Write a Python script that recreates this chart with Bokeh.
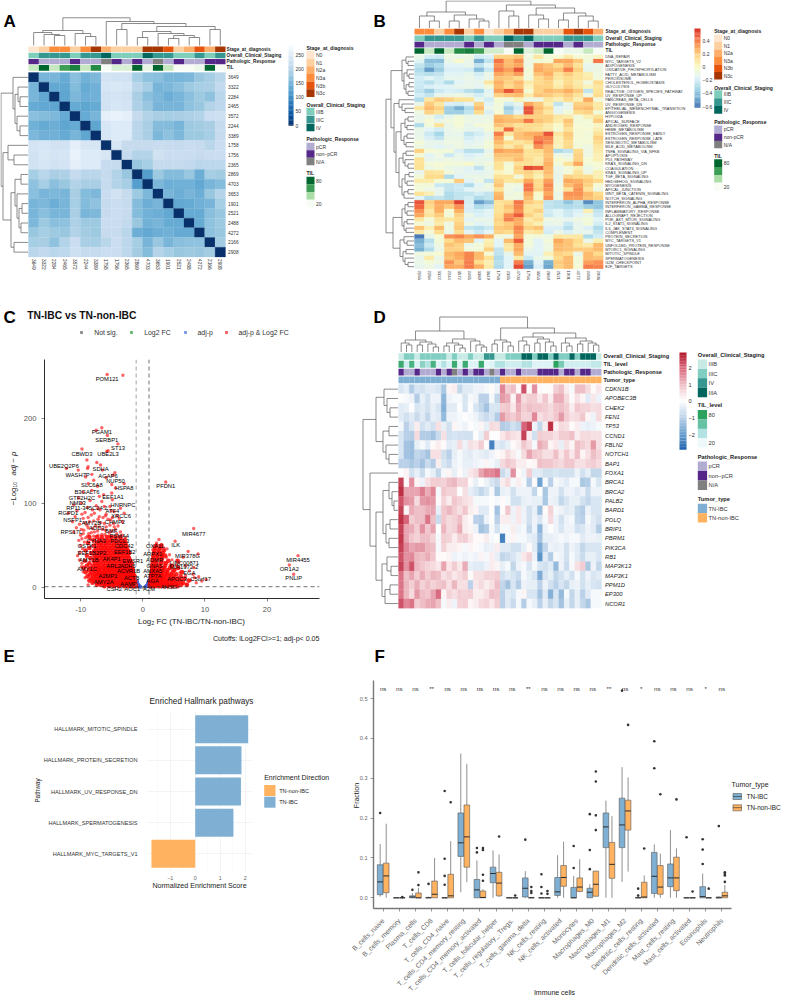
import math
from bokeh.plotting import figure
from bokeh.models import Range1d, FixedTicker, Label, BoxAnnotation, Span, ColumnDataSource
from bokeh.layouts import row, column
from bokeh.core.properties import value
from bokeh.transform import linear_cmap
from bokeh.embed import file_html
from bokeh.resources import INLINE
from bokeh.palettes import Blues256

FONT = "Liberation Sans"
L = None

# ---------- shared colours
stage_colors = {"N0": "#FEE6CE", "N1": "#FDD0A2", "N2a": "#FDAE6B", "N3a": "#FD8D3C", "N3b": "#E6550D", "N3c": "#A63603"}
overall_colors = {"IIIB": "#7FCDBB", "IIIC": "#35978F", "IV": "#01665E"}
path_colors = {"pCR": "#B2ABD2", "non": "#542788", "NA": "#808080"}
d_overall_colors = {"IIIB": "#C7EAE5", "IIIC": "#80CDC1", "IV": "#35978F", "IIIA": "#01665E"}
tumor_colors = {"TN-IBC": "#7FB0D3", "TN-non-IBC": "#FFB361"}
til_stops = ["#F7FCF5", "#C7E9C0", "#74C476", "#238B45", "#00662F"]
d_til_stops = ["#EDF8FB", "#B2E2E2", "#66C2A4", "#2CA25F"]
rdylbu_stops = ["#4575B4", "#74ADD1", "#ABD9E9", "#E0F3F8", "#F8FBCF", "#FEE090", "#FDAE61", "#F46D43", "#D73027"]
rdbu_stops = ["#1F63AE", "#6FA3D0", "#B9D0E8", "#FFFFFF", "#EFC1C8", "#D9697E", "#B2182B"]

# ---------- panel A
a_samples = ["3649", "3322", "2284", "2465", "3572", "2244", "3389", "1758", "1756", "2365", "2869", "4703", "3653", "1901", "2521", "2488", "4272", "2166", "2908"]
a_stage = ["N0", "N1", "N3a", "N3a", "N1", "N3a", "N3c", "N2a", "N1", "N1", "N1", "N3c", "N3c", "N3b", "N1", "N2a", "N3b", "N2a", "N3c"]
a_overall = ["IIIB", "IIIC", "IIIC", "IIIC", "IIIB", "IIIC", "IIIC", "IV", "IIIB", "IIIB", "IIIB", "IV", "IIIC", "IIIC", "IIIB", "IIIB", "IIIC", "IIIB", "IIIC"]
a_path = ["non", "pCR", "pCR", "pCR", "non", "pCR", "pCR", "NA", "non", "pCR", "non", "pCR", "NA", "pCR", "non", "pCR", "pCR", "non", "non"]
a_til = [35, 80, 35, 60, 70, 35, 65, 20, 30, 30, 80, 25, 80, 35, 20, 20, 23, 80, 20]
a_matrix = [
    [0, 150, 150, 137, 162, 145, 154, 232, 227, 227, 183, 166, 162, 150, 150, 154, 172, 183, 200],
    [150, 0, 134, 134, 158, 137, 145, 236, 240, 236, 200, 183, 150, 154, 162, 176, 183, 187, 208],
    [150, 134, 0, 130, 154, 141, 145, 227, 232, 227, 187, 162, 154, 141, 150, 162, 176, 166, 200],
    [137, 134, 130, 0, 137, 130, 137, 227, 236, 232, 190, 172, 150, 150, 150, 166, 172, 194, 203],
    [162, 158, 154, 137, 0, 137, 150, 255, 262, 255, 212, 194, 187, 183, 187, 190, 194, 219, 222],
    [145, 137, 141, 130, 137, 0, 130, 236, 245, 245, 200, 187, 158, 158, 150, 176, 180, 187, 212],
    [154, 145, 145, 137, 150, 130, 0, 236, 245, 245, 200, 187, 154, 166, 154, 176, 176, 183, 212],
    [232, 236, 227, 227, 255, 236, 236, 0, 236, 212, 212, 212, 216, 212, 212, 216, 212, 200, 219],
    [227, 240, 232, 236, 262, 245, 245, 236, 0, 212, 194, 194, 227, 219, 219, 216, 212, 219, 219],
    [227, 236, 227, 232, 255, 245, 245, 212, 212, 0, 172, 183, 212, 212, 212, 208, 200, 203, 203],
    [183, 200, 187, 190, 212, 200, 200, 212, 194, 172, 0, 122, 176, 158, 158, 172, 141, 183, 180],
    [166, 183, 162, 172, 194, 187, 187, 212, 194, 183, 122, 0, 154, 141, 145, 145, 134, 150, 158],
    [162, 150, 154, 150, 187, 158, 154, 216, 227, 212, 176, 154, 0, 150, 141, 150, 141, 172, 197],
    [150, 154, 141, 150, 183, 158, 166, 212, 219, 212, 158, 141, 150, 0, 134, 137, 145, 150, 183],
    [150, 162, 150, 150, 187, 150, 154, 212, 219, 212, 158, 145, 141, 134, 0, 137, 137, 162, 172],
    [154, 176, 162, 166, 190, 176, 176, 216, 216, 208, 172, 145, 150, 137, 137, 0, 137, 166, 176],
    [172, 183, 176, 172, 194, 180, 176, 212, 212, 200, 141, 134, 141, 145, 137, 137, 0, 166, 172],
    [183, 187, 166, 194, 219, 187, 183, 200, 219, 203, 183, 150, 172, 150, 162, 166, 166, 0, 180],
    [200, 208, 200, 203, 222, 212, 212, 219, 219, 203, 180, 158, 197, 183, 172, 176, 172, 180, 0],
]
a_col_tree = (27.7,
              (15, (13, L, (11, L, (10, L, L))), (12, L, (9, L, L))),
              (24, L, (22, (16, L, L), (19, (14, (8, L, L), (12, L, (10, (7, L, L), (8, L, L)))), (16, L, L)))))
a_row_tree = (27,
              (15, L, (13, (10, L, (8, L, L)), (11, L, (8, L, L)))),
              (25, (20, L, (14, L, L)),
               (17, (13, (7, L, L), (11, L, (9, (6, L, L), (7, L, L)))), (14, L, L))))

# ---------- panel B
b_samples = ["2166", "2284", "3322", "2244", "3572", "2465", "3389", "3649", "1758", "2365", "4703", "1756", "3653", "2869", "2521", "1901", "4272", "2488", "2908"]
b_stage = ["N3a", "N3a", "N1", "N3a", "N3c", "N1", "N3a", "N0", "N1", "N2a", "N3c", "N3c", "N1", "N1", "N1", "N3b", "N3c", "N3b", "N2a"]
b_overall = ["IIIB", "IIIC", "IIIC", "IIIC", "IIIC", "IIIB", "IIIC", "IIIB", "IIIB", "IV", "IIIC", "IV", "IIIB", "IIIB", "IIIB", "IIIC", "IIIC", "IIIC", "IIIB"]
b_path = ["non", "pCR", "pCR", "pCR", "pCR", "non", "pCR", "non", "pCR", "NA", "NA", "pCR", "non", "non", "non", "pCR", "non", "pCR", "pCR"]
b_til = [80, 35, 80, 35, 65, 70, 60, 32, 32, 20, 80, 28, 35, 80, 20, 24, 24, 35, 20]
b_pathways = ["DNA_REPAIR", "MYC_TARGETS_V2", "ADIPOGENESIS", "OXIDATIVE_PHOSPHORYLATION", "FATTY_ACID_METABOLISM", "PEROXISOME", "CHOLESTEROL_HOMEOSTASIS", "GLYCOLYSIS", "REACTIVE_OXYGEN_SPECIES_PATHWAY", "UV_RESPONSE_UP", "PANCREAS_BETA_CELLS", "UV_RESPONSE_DN", "EPITHELIAL_MESENCHYMAL_TRANSITION", "ANGIOGENESIS", "HYPOXIA", "APICAL_SURFACE", "ANDROGEN_RESPONSE", "HEME_METABOLISM", "ESTROGEN_RESPONSE_EARLY", "ESTROGEN_RESPONSE_LATE", "XENOBIOTIC_METABOLISM", "BILE_ACID_METABOLISM", "TNFA_SIGNALING_VIA_NFKB", "APOPTOSIS", "P53_PATHWAY", "KRAS_SIGNALING_DN", "COAGULATION", "KRAS_SIGNALING_UP", "TGF_BETA_SIGNALING", "HEDGEHOG_SIGNALING", "MYOGENESIS", "APICAL_JUNCTION", "WNT_BETA_CATENIN_SIGNALING", "NOTCH_SIGNALING", "INTERFERON_ALPHA_RESPONSE", "INTERFERON_GAMMA_RESPONSE", "INFLAMMATORY_RESPONSE", "ALLOGRAFT_REJECTION", "PI3K_AKT_MTOR_SIGNALING", "IL2_STAT5_SIGNALING", "IL6_JAK_STAT3_SIGNALING", "COMPLEMENT", "PROTEIN_SECRETION", "MYC_TARGETS_V1", "UNFOLDED_PROTEIN_RESPONSE", "MTORC1_SIGNALING", "MITOTIC_SPINDLE", "SPERMATOGENESIS", "G2M_CHECKPOINT", "E2F_TARGETS"]
b_matrix_pct = [
    [-10, -20, -22, -8, -10, -8, -20, -18, 18, 18, 22, -6, 10, -5, -3, 8, -3, -5, 2],
    [-15, -40, -40, -10, 0, -10, -45, -25, 42, 25, 35, -8, -5, -3, 30, 30, 20, -5, 42],
    [-25, -35, -30, -15, -15, -12, -25, -15, 35, 25, 30, -8, 28, 22, 15, 25, 12, -12, -10],
    [-30, -50, -35, -18, -18, -20, -40, -22, 40, 32, 50, -5, 30, 25, 22, 40, 18, -12, -8],
    [-25, -28, -25, -15, -15, -12, -20, -10, 30, 25, 33, -5, 22, 28, 12, 20, 12, 5, -8],
    [-20, -15, -20, -12, -12, -10, -15, -10, 22, 20, 15, -6, 15, 22, 10, 15, 12, 8, -5],
    [-22, -28, -20, -30, -15, -12, -12, 10, 28, 18, 25, 8, 15, 18, 5, 15, 8, -6, 15],
    [-22, -18, -16, -15, -12, -10, -14, -5, 25, 15, 22, 3, 18, 18, 8, 18, 10, 3, 10],
    [-25, -35, -22, -18, -20, -28, -32, -15, 32, 50, 35, -3, 18, 25, 22, 28, 20, -25, 12],
    [-20, -25, -12, -10, -8, -12, -20, -12, 18, 22, 25, 8, 22, 20, 15, 20, 12, -8, 15],
    [-30, 10, 20, 18, 12, 12, -12, -20, -3, -5, 5, -8, -8, 10, 5, 15, 5, 30, -5],
    [-10, 20, 10, -18, -20, -15, 18, -15, -5, -20, -12, 30, 20, 5, -25, -10, 18, 18, 8],
    [10, 25, 18, -35, -45, -30, 25, -10, -6, -35, -20, 50, 25, 15, -15, -10, 22, 25, 10],
    [-8, 18, 12, -35, -35, -25, 15, -18, -3, -30, -15, 50, 20, 10, -12, -5, 15, 18, -5],
    [-12, -8, -20, -12, -5, -10, -10, -10, 25, 22, 15, 18, 18, 18, 10, 8, -5, 5, 12],
    [-10, -3, -10, -6, -4, -8, -10, -8, 28, 25, 25, 42, 22, 18, 8, 22, -5, -5, 20],
    [-30, -5, 12, -10, -3, -12, -5, -5, 22, 18, 12, 15, 15, 8, 0, 18, -3, -5, 2],
    [-10, -15, -20, -10, -8, -12, -14, -5, 12, 45, 18, 15, 12, 8, -3, 12, -3, -3, 5],
    [-12, -22, -32, -12, -12, -25, -20, -12, 40, 10, 22, 28, 30, 50, 10, 20, -3, -5, 12],
    [-10, -18, -25, -10, -10, -20, -15, -10, 30, -3, 22, 25, 38, 38, 5, 18, -3, -5, 18],
    [-5, -12, -12, -8, -8, -15, -12, -5, 25, 15, 10, 15, 45, 35, 5, 15, -5, -3, 15],
    [-8, -12, -15, -12, -8, -12, -10, -5, 18, 8, 18, 5, 35, 25, 3, 15, -5, -8, 10],
    [18, -3, -5, -5, -18, -28, -28, -12, 32, 28, 30, 12, 15, 25, -30, -25, 15, -8, 8],
    [-5, -15, -8, -22, -12, -18, -15, -8, 22, 22, 22, 12, 12, 22, -8, -12, 18, -8, 5],
    [12, -12, -10, -8, -10, -14, -10, -12, 18, 18, 25, 15, 8, 25, 0, -5, 18, -3, 5],
    [12, -5, -3, -5, -5, 0, -10, -6, 12, -5, 12, 12, 10, 28, -5, 12, 30, -5, -3],
    [12, -8, -5, -10, -12, -15, -25, -10, 12, -3, 18, 52, 48, 25, -12, -5, 5, -10, -5],
    [-12, 12, 10, -5, -12, -14, -14, -12, 3, -3, 15, 18, 10, 25, -10, -5, 12, -8, 5],
    [-5, 15, 15, -30, -15, -10, -10, -10, 12, 12, -5, 15, 5, 20, -12, 18, 15, 15, 5],
    [8, 8, -3, -3, 20, -15, -8, -25, 18, 10, 12, 30, 15, 32, -10, 30, 28, 20, 15],
    [-5, -5, -22, -25, -22, -30, -15, -8, 22, -6, -8, 42, 15, 38, -8, 25, 32, 18, -3],
    [-5, -8, -12, -25, -22, -15, -12, -10, 12, -6, -12, 42, 18, 35, -6, 12, 35, 12, -8],
    [12, 5, -12, -30, -25, -25, -20, -25, 25, -8, -5, 30, 0, 30, -10, 35, 35, 25, 15],
    [-15, -28, -25, -30, -25, -20, -30, -25, 28, -6, -8, 25, -3, 35, -8, 32, 32, 22, 18],
    [50, 18, 30, 30, 55, -20, -50, -40, 12, 15, 42, 20, 15, -25, -28, -38, -28, -55, -38],
    [45, 15, 28, 20, 35, -18, -30, -25, 12, 22, 38, 12, 10, -25, -28, -30, -28, -35, -38],
    [35, 8, 28, -3, 28, -18, -20, -15, 12, 18, 35, 12, 18, -20, -15, -22, -18, 5, -25],
    [30, 12, 20, -5, 18, -10, -18, -15, 15, 35, 48, 18, 10, -22, -15, -22, -15, -10, -22],
    [10, -5, 12, 10, 15, -15, -10, -12, 18, 40, 30, 8, 15, -8, -10, -12, -8, -5, -15],
    [-3, -8, 8, -8, 18, -8, -15, -12, 15, 20, 28, 12, 5, -12, -10, -22, -12, -5, -20],
    [22, 5, 25, -8, 20, -25, -28, -22, 20, 22, 38, 18, 22, -18, -18, -28, -12, -18, -30],
    [8, -5, 15, -10, 15, -15, -22, -15, 18, 15, 35, 8, 12, -20, -10, -18, -12, -12, -25],
    [-60, -12, -3, 35, 38, 30, 35, 28, -5, -8, 30, -5, -5, -8, 10, 8, 10, -30, -20],
    [-45, -28, -5, 15, 25, 22, -15, 5, -15, 25, 48, -5, -15, -5, 30, 22, 15, -10, 5],
    [-40, -22, -8, 22, 18, -10, -5, 8, -15, 10, 28, -5, -15, -8, 25, 22, 12, 8, 25],
    [-45, -30, -10, 18, 18, -5, -5, 18, -25, 10, 30, -10, -15, -8, 25, 22, 20, 20, 25],
    [-8, -5, -3, 25, 30, 38, 25, -3, -25, -12, 25, -15, -15, 5, 18, 15, -10, 25, 15],
    [-12, 8, -10, 22, 28, 38, 25, 12, -30, -15, 8, -22, -10, -5, 15, 25, -5, 25, 22],
    [-10, -5, -8, 35, 22, 40, 15, 5, -28, -15, 40, -45, -15, -45, 20, 25, -5, 32, 35],
    [-12, -8, -15, 30, 28, 40, 28, 8, -30, -15, 52, -50, -18, -48, 18, 25, -3, 40, 38],
]
b_col_tree = (27,
              (16, (12, L, (7, L, L)), (13, (7, L, L), (9, L, (7, L, L)))),
              (23, (17, L, (12, L, L)), (20, (13, L, (9, L, L)), (15, (8, L, L), (12, L, (7, L, L))))))
b_g1 = (12, (8, L, (6, L, L)), (10, (7, L, (5, L, L)), (8, (5, L, L), (6, L, L))))
b_g2a = (15, L, (12, L, (9, L, L)))
b_g2b = (13, (9, (6, L, L), (7, L, L)), (10, (7, L, L), (8, L, L)))
b_g2c = (15, (11, (8, L, L), (9, L, (6, L, L))), (12, (9, (5, L, L), (7, L, L)), (10, (6, L, L), L)))
b_g3 = (12, (9, (6, L, L), (7, L, L)), (10, (7, L, L), (8, L, L)))
b_g4 = (14, (10, L, (7, L, L)), (11, (8, L, L), (9, L, (6, L, L))))
b_row_tree = (28, (23, b_g1, (20, b_g2a, (18, b_g2b, b_g2c))), (21, b_g3, b_g4))

# ---------- panel C
red_bands = [
    (1.8, [-6.2, -5.4, -4.6, -3.8, -3.0, -2.4, -1.9, -1.4, -1.1, 1.2, 1.6, 2.1, 2.7, 3.3, 4.0, 4.8, 5.6]),
    (3.5, [-7.4, -6.8, -6.1, -5.5, -4.9, -4.3, -3.7, -3.2, -2.7, -2.2, -1.8, -1.4, -1.1, 1.1, 1.5, 1.9, 2.4, 2.9, 3.5, 4.1, 4.7, 5.4, 6.2, 7.1]),
    (6, [-8.1, -7.3, -6.7, -6.0, -5.4, -4.8, -4.2, -3.6, -3.1, -2.6, -2.1, -1.7, -1.3, 1.2, 1.6, 2.1, 2.6, 3.2, 3.8, 4.4, 5.0, 5.7, 6.5]),
    (8.5, [-8.6, -7.9, -7.2, -6.5, -5.9, -5.3, -4.7, -4.1, -3.5, -3.0, -2.5, -2.0, -1.6, -1.2, 1.2, 1.7, 2.2, 2.8, 3.3, 3.9, 4.6, 5.2, 6.0, 7.4]),
    (11, [-8.3, -7.6, -7.0, -6.4, -5.7, -5.1, -4.5, -3.9, -3.4, -2.8, -2.3, -1.9, -1.4, 1.3, 1.8, 2.3, 2.9, 3.5, 4.2, 4.9, 5.6, 6.7]),
    (13.5, [-8.9, -8.0, -7.4, -6.8, -6.2, -5.6, -5.0, -4.4, -3.8, -3.2, -2.7, -2.2, -1.7, -1.3, 1.3, 1.8, 2.4, 3.0, 3.6, 4.3, 5.0, 6.1]),
    (16, [-8.5, -7.7, -7.1, -6.5, -5.9, -5.2, -4.6, -4.0, -3.5, -2.9, -2.4, -1.9, -1.5, 1.4, 1.9, 2.5, 3.1, 3.8, 4.5, 5.4]),
    (18.5, [-9.2, -8.2, -7.5, -6.9, -6.2, -5.6, -5.0, -4.4, -3.8, -3.2, -2.6, -2.1, -1.6, 1.4, 1.9, 2.5, 3.2, 3.9, 4.8, 6.3]),
    (21, [-8.7, -7.9, -7.2, -6.6, -6.0, -5.4, -4.8, -4.2, -3.6, -3.0, -2.5, -2.0, -1.6, 1.5, 2.0, 2.6, 3.3, 4.0, 5.1]),
    (23.5, [-9.5, -8.4, -7.6, -7.0, -6.3, -5.7, -5.1, -4.5, -3.9, -3.3, -2.8, -2.2, -1.7, 1.5, 2.0, 2.7, 3.4, 4.4, 5.7]),
    (26, [-9.0, -8.0, -7.3, -6.7, -6.1, -5.5, -4.9, -4.3, -3.7, -3.1, -2.5, -2.0, 1.5, 2.1, 2.8, 3.6, 4.7]),
    (29, [-8.6, -7.7, -7.1, -6.4, -5.8, -5.2, -4.6, -4.0, -3.4, -2.8, -2.2, -1.8, 1.6, 2.2, 2.9, 3.7]),
    (32, [-9.3, -7.9, -7.3, -6.7, -6.1, -5.5, -4.9, -4.3, -3.7, -3.1, -2.5, -2.0, 1.6, 2.2, 3.0, 4.1, 5.6]),
    (35, [-8.4, -7.6, -7.0, -6.4, -5.8, -5.2, -4.6, -4.0, -3.4, -2.8, -2.2, 1.7, 2.4, 3.1]),
    (38, [-9.0, -7.8, -7.2, -6.6, -6.0, -5.4, -4.8, -4.2, -3.6, -3.0, -2.4, 1.7, 2.3, 3.0, 3.6]),
    (41, [-8.3, -7.5, -6.9, -6.3, -5.7, -5.1, -4.5, -3.9, -3.3, -2.7, -2.2, 1.8, 2.5, 3.2]),
    (44, [-9.2, -7.8, -7.1, -6.5, -5.9, -5.3, -4.7, -4.1, -3.5, -2.9, -2.4, 1.9, 2.6, 3.4]),
    (47, [-8.6, -7.5, -6.8, -6.2, -5.6, -5.0, -4.4, -3.8, -3.2, -2.6, 2.0, 2.8]),
    (50, [-7.9, -7.1, -6.5, -5.9, -5.2, -4.6, -3.9, -3.3, -2.7, 2.2, 3.0]),
    (53, [-8.8, -7.4, -6.7, -6.0, -5.4, -4.7, -4.1, -3.4, -2.8]),
    (56, [-7.9, -7.0, -6.3, -5.6, -5.0, -4.3, -3.6, -2.9]),
    (60, [-8.6, -7.4, -6.6, -5.8, -5.1, -4.4, -3.7]),
]
red_scatter = [(-5.74, 252), (-3.2, 251), (-6.6, 189), (-7.5, 186), (-5.7, 180), (-4, 170), (-5.6, 162), (-5.8, 161), (-9.8, 164), (-9.0, 151), (-7.4, 148), (-6.8, 145), (-8.8, 143), (-8.9, 141), (-12.3, 141), (-6.5, 139), (-10.4, 139), (-4.5, 136), (-8.2, 134), (-4.8, 133), (-9.2, 131), (-5.9, 130), (-7.9, 127), (-3.0, 123), (3.7, 125), (-8.8, 123), (-5.0, 122), (-7.3, 120), (-4.4, 118), (-8.2, 115), (-5, 112), (-9.6, 113), (-6.3, 110), (-7.0, 108), (-10.3, 106), (-4.9, 104), (-8.5, 103), (-6.6, 102), (-9.9, 100), (-11.1, 98), (-7.5, 97), (-5.3, 96), (-8.9, 95), (-3.6, 94), (-6.9, 92), (-10.6, 91), (-4.6, 90), (-9.3, 89), (-7.8, 88), (-5.9, 87), (-12.0, 88), (-8.3, 86), (-4.1, 85), (-10.9, 84), (-6.4, 83), (-9.6, 82), (-7.2, 81), (-5.2, 80), (-11.3, 78), (-8.6, 78), (-6.8, 77), (-4.7, 76), (-10.2, 75), (-9.0, 74), (-7.6, 73), (-5.9, 72), (-10.7, 71), (-8.1, 70), (-6.5, 69), (-4.4, 69), (-9.5, 68), (-7.3, 67), (-11.1, 66), (-5.4, 65), (-8.7, 64), (-6.1, 63), (-10, 62), (-7.9, 61), (-4.9, 60), (-9.2, 59), (-6.9, 58), (-3.4, 58), (-8.4, 57), (-5.7, 56), (8.2, 70), (5.2, 55), (7.3, 43), (8.9, 40), (6.5, 36), (3.9, 46), (2.6, 57), (2.2, 53), (3, 51), (2, 50), (1.8, 48), (3.4, 47), (2.6, 46), (1.6, 45), (3.0, 42), (4.3, 39), (5.8, 30), (6.9, 26), (8.2, 24), (7.5, 20), (9, 13), (8.3, 12), (25, 38), (23.6, 27), (24.3, 16), (10.2, 10),
               (-6.2, 96), (-7.2, 94), (-8.1, 92), (-5.1, 91), (-9.8, 87), (-6.0, 85), (-7.0, 84), (-8.8, 83), (-4.9, 83), (-5.6, 81), (-7.9, 79), (-9.3, 77), (-6.2, 76), (-5.3, 74), (-7.0, 72), (-8.8, 71), (-4.6, 72), (-9.9, 69), (-6.0, 68), (-7.8, 66), (-5.0, 67), (-8.3, 65), (-9.6, 64), (-6.6, 63), (-4.2, 64), (-7.2, 62), (-5.5, 61), (-9.8, 58), (-8.9, 61), (-10.3, 56), (-9.4, 54), (-10.0, 50), (-9.7, 46), (-10.1, 42), (-10.5, 38), (-10.2, 33), (-9.8, 29), (-9.9, 25), (-9.6, 19), (-9.3, 12), (-8.8, 3.5), (-3.3, 62), (-2.8, 59), (-3.6, 66), (-4.0, 73), (-3.3, 78), (-3.8, 82), (-3.0, 88), (5.0, 22), (6.0, 18), (6.9, 14), (7.7, 9), (8.6, 6), (6.4, 10), (7.0, 4), (5.4, 27), (4.7, 33), (3.8, 36), (3.5, 30), (4.4, 27), (8.1, 16), (9.5, 8)]
blue_scatter = [(-0.95, 9), (-0.9, 7.5), (-0.85, 6), (-0.95, 5), (-0.8, 4.2), (-0.7, 3.4), (-0.9, 3), (-0.6, 2.6), (-0.75, 2.1), (-0.5, 1.9), (-0.95, 1.6), (-0.6, 1.5), (-0.4, 1.4), (-0.98, 2.4), (-0.85, 1.8), (0.95, 9), (0.9, 7), (0.85, 5.5), (0.96, 4.6), (0.8, 4), (0.7, 3.2), (0.9, 2.8), (0.6, 2.5), (0.75, 2), (0.5, 1.8), (0.95, 1.6), (0.6, 1.5), (0.4, 1.4), (0.98, 6.4), (0.85, 1.8)]
grey_scatter = [(-0.2, 0.4), (0.1, 0.3), (0.3, 0.8), (-0.4, 0.9), (0.6, 1.0), (-0.7, 0.7)]
green_scatter = [(-1.2, 0.5), (-2, 1), (1.4, 0.8), (2.5, 0.6)]
gene_labels = [("POM121", -5.74, 246.5), ("PGAM1", -6.6, 183.9), ("SERBP1", -5.8, 174.8), ("ST13", -4.0, 164.6), ("CBWD3", -9.8, 158.3), ("UBE2L3", -5.6, 157.5), ("UBE2Q2P6", -12.7, 143.3), ("SDHA", -6.8, 140.2), ("WASH7P", -10.5, 133.5), ("AGAP6", -5.6, 131.5), ("NUP50", -4.4, 126.4), ("SLC6A8", -8.2, 122), ("HSPA8", -3, 117.3), ("PFDN1", 3.7, 120.5), ("B3GALT6", -9, 112.6), ("GTF2H2C", -9.8, 105.9), ("EEF1A1", -4.8, 107), ("NMD3", -10.5, 100), ("HNRNPC", -3.2, 97.6), ("RP11-345C24.2", -9, 94.5), ("ATF4", -4.9, 90.6), ("RGPD1", -12, 88.2), ("XRCC6", -3.5, 84.6), ("NSFP1", -11.3, 79.5), ("CHMP2", -4.5, 78), ("AMY2B", -8.3, 76), ("ADD3", -7.4, 70.9), ("RPS17L", -11.5, 66), ("BMF", -5.1, 67.3), ("MIR4677", 8.2, 63.8), ("ILK", 5.3, 50), ("PSMA4", -3.8, 60.6), ("CYNA3", -7.5, 55), ("PDCL3", -3.7, 54.7), ("GSTK1", -9, 48.8), ("CDC42", -3, 48.8), ("OXA1L", 2, 48.8), ("EEF1B2P2", -8.2, 40.6), ("EEF1B2", -2.9, 42.5), ("ARPX1", 1.6, 39.4), ("MIR378G", 7.2, 37.8), ("AMY1B", -8.7, 33), ("AK4P1", -5, 34.3), ("EWSR1", -1.6, 31.5), ("ADMR", 1.9, 32.3), ("LINC00871", 6.7, 29.5), ("MIR4455", 25, 33), ("OR1A2", 23.6, 22), ("PNLIP", 24.3, 11), ("ARL2", -4.7, 25.6), ("ADH5", -2.4, 25.6), ("GNAS", 1.9, 26), ("MIR1972-2", 6.6, 24), ("AMY1C", -9, 22.4), ("ACVR1B", -2.3, 19.7), ("ANXA5", 1.6, 19.3), ("EGA", 7.5, 18), ("A2MP1", -5.6, 13.4), ("ACTB", -1.8, 11), ("ATP7A", 1.6, 13.4), ("APOC3", 5.5, 10.2), ("C5orf17", 9.3, 10.2), ("AMY2A", -6.3, 6.7), ("AAMP", -2.3, 4.7), ("AGA", 1.6, 7.9), ("AHSG", 4.2, 1.2), ("CSH2", -4.6, -1.6), ("AOC1", -1.7, -1.6), ("A2M", 1, -1.6)]

# ---------- panel D
d_genes = ["CDKN1B", "APOBEC3B", "CHEK2", "FEN1", "TP53", "CCND1", "FBLN2", "NOTCH1", "BAP1", "FOXA1", "BRCA1", "BRCA2", "PALB2", "BARD1", "POLQ", "BRIP1", "PBRM1", "PIK3CA", "RB1", "MAP3K13", "MAP3K1", "PPM1D", "EP300", "NCOR1"]
d_overall = ["IIIB", "IIIC", "IIIC", "IIIB", "IIIC", "IIIC", "IIIC", "IIIC", "IIIC", "IIIB", "IIIC", "IIIB", "IIIB", "IIIC", "IIIB", "IIIB", "IV", "IV", "IIIB", "IIIB", "IIIC", "IIIC", "IIIC", "IIIA", "IIIA", "IIIC", "IIIA", "IIIA", "IIIC", "IIIA", "IIIC", "IIIC", "IIIA", "IIIC", "IIIA", "IIIA", "IIIA", "IIIB"]
d_til = [75, 30, 70, 25, 50, 40, 70, 25, 40, 25, 75, 25, 75, 25, 25, 75, 22, 25, 40, 40, 30, 30, 30, 40, 40, 25, 25, 25, 25, 80, 55, 30, 30, 30, 30, 30, 35, 35]
d_path = ["non", "pCR", "pCR", "non", "pCR", "pCR", "pCR", "non", "pCR", "non", "NA", "pCR", "non", "pCR", "non", "non", "pCR", "NA", "pCR", "non", "pCR", "pCR", "non", "pCR", "pCR", "pCR", "non", "non", "non", "non", "pCR", "non", "non", "pCR", "non", "non", "pCR", "pCR"]
d_tumor = ["TN-IBC"] * 19 + ["TN-non-IBC"] * 19
d_matrix_tenths = [
    [-5, -3, -10, -5, -6, -4, -4, -5, -11, 2, 3, -8, -4, -4, -2, -2, -1, 1, -2, 16, 8, 10, 1, 22, 1, 15, 1, 0, 1, 8, 10, 3, -1, 10, 10, 6, 1, 4],
    [0, -1, -2, -10, -3, -6, -2, -2, -15, -2, -1, -1, -5, -1, -2, -9, -9, -1, -8, 14, 12, 2, 14, 6, 8, 8, 4, 9, 3, 12, 12, 6, 1, 5, 2, -4, 4, -2],
    [-4, -3, 0, -5, -4, -6, -3, -5, -16, -4, -4, 0, -5, 0, -5, -8, -12, -5, -5, 8, 9, 4, 12, 8, 10, 9, 9, 8, 6, 9, 10, 8, 3, 9, 7, 7, 5, 6],
    [-4, -6, -4, -7, -4, -8, -3, -4, -14, -2, -2, -1, 0, -1, -2, -5, -7, -5, -10, 14, 10, 8, 11, 7, 7, 16, 5, 7, 6, 9, 14, 8, 5, 6, 9, 2, -2, 6],
    [-1, -9, -5, 3, -6, -4, -6, 5, -3, -6, 2, -1, -2, 0, -1, 2, -3, 6, 5, -10, -9, -6, -8, 20, 24, -2, -8, 3, 26, 2, 6, 5, 1, 3, -2, -3, -2, -1],
    [-5, -9, -10, 6, -10, -10, -12, -7, 5, -6, -5, -6, -6, -6, 0, -3, 8, 0, 0, 4, 7, 5, 4, 24, 3, -6, 8, 7, 7, 5, 8, 8, 10, 3, 6, 6, 5, 5],
    [-5, -12, -13, -3, -1, -4, 1, 3, 1, -4, -3, 6, -2, 5, 4, 8, 1, -24, -4, -5, -3, 1, 3, 9, 6, -1, 12, 10, 2, 4, -3, 5, 2, 10, 8, 6, 14, 5],
    [-5, -12, -13, -8, -9, -12, 5, 5, -6, -9, -3, -1, -3, -4, -2, -3, -4, -2, 1, 2, 6, 3, -1, 6, 13, 9, 8, 5, 5, 10, 4, 9, 4, 10, 2, 5, 10, 7],
    [-9, -9, -11, -9, -12, -7, -10, 3, -5, -7, -2, -1, -3, -3, -2, -1, 2, -1, -3, 6, 9, 7, 3, 3, 1, 2, 10, 9, 9, 7, 6, 9, 9, 5, 5, 7, 8, 6],
    [0, 2, -6, -3, -7, -1, -3, -8, -1, 2, -3, 1, -2, 4, 6, 13, 16, 16, 18, -7, -4, 15, 1, -2, 8, -4, -4, -6, -6, -5, -6, -6, -6, -2, -6, -3, -8, -8],
    [24, 1, 15, 2, -2, 5, 8, 8, 7, 10, 11, 7, 7, 1, -3, 0, -2, -5, -7, 3, 6, -1, 3, -1, -10, 1, -19, -1, -9, -1, -2, -4, -1, -1, -11, -10, -1, -5],
    [26, 13, 13, 13, 17, 12, 16, -1, 9, 7, 7, 0, 5, -3, -5, -8, -5, -1, -11, -3, -2, -6, -2, -2, -2, -8, 0, -11, -2, -2, -6, -2, -2, -4, -2, -7, -2, -2],
    [22, 15, 14, 6, 14, 15, 14, 1, 7, 3, 9, 7, 5, 4, -1, -1, -1, 0, -1, 1, -1, -6, -6, -3, -2, -3, -3, -11, -2, -3, -8, -5, -3, -3, -6, -8, -5, -5],
    [24, 2, 12, 10, 10, 12, 13, -3, 9, 11, 8, 5, 9, 3, 2, -4, -4, 0, -12, 1, 9, -2, 4, -2, -6, -3, -13, 1, 7, -1, -2, -4, -3, -8, -10, -2, -5, -5],
    [26, 20, 8, 10, 10, 18, 10, -7, 9, 6, 7, 10, 3, 1, -9, -10, -2, 0, -9, 3, 3, -2, 4, -2, -6, -2, -5, -1, 6, -2, -6, -2, -1, -8, -9, -1, -4, -6],
    [24, 13, 12, 8, 15, 9, 13, 0, 11, 6, 7, 12, 3, 2, -2, -12, -10, -1, -6, -1, -1, 3, -2, -1, -8, -2, -15, -2, 0, -2, -5, -2, -2, -6, -5, -2, -4, -10],
    [25, 13, 9, 7, 10, 10, 7, -1, 8, 7, 3, 7, 8, 4, 1, 1, 3, -1, 0, -24, -1, 2, -1, -1, -3, -4, -12, -3, -3, -2, -1, -2, -1, -1, -4, -2, -2, -3],
    [24, 16, 13, 14, 14, 11, 10, -1, 7, 3, 3, 2, -1, 2, 1, -1, -3, -2, 3, -4, -4, -6, -6, -3, 1, -4, -17, -8, -2, -3, -2, -6, -2, -4, -8, -5, -5, -5],
    [22, 15, 16, 11, 10, 12, 9, 1, 1, 2, -2, -1, -2, -1, -2, 2, -1, 3, -3, -8, -7, -5, -3, 4, 7, -2, -21, -4, -10, -1, -2, -6, -1, -4, -7, -3, -3, -5],
    [24, 15, 22, 11, 9, 7, 6, 4, 13, 4, 8, 4, 12, -3, -4, -4, -2, 3, 2, -3, -1, -8, -2, -1, -5, -1, -5, -6, -4, -14, -2, -7, -1, 5, 8, -11, -2, -8],
    [18, 10, 13, 8, 12, 8, 11, 10, 5, 7, 4, 6, 8, 1, 5, 5, 7, 7, 8, -6, -4, -5, -7, -1, -3, -5, -17, -5, -3, -8, -6, -3, -6, -1, -6, -2, -5, -4],
    [18, 11, 8, 12, 7, 10, 7, 9, 10, 5, 11, 5, 5, -9, 4, 6, 3, 5, 10, -8, -12, -5, -10, -2, -3, -3, -9, -2, -6, -9, -5, -8, -3, -2, -6, -3, -5, -6],
    [18, 11, 6, 14, 10, 9, 13, 19, 2, 7, 5, 8, 7, 8, 3, 3, 5, 10, 9, -9, -4, -5, -1, 2, -5, -5, -12, -4, -16, -5, -14, -1, -8, -3, -9, -4, -1, -1],
    [22, 16, 18, 8, 10, 12, 13, 10, -1, 3, -2, 7, 8, 2, 3, 6, 7, 4, 8, -9, -4, -7, -1, -10, -1, -3, -9, -3, -8, -5, -12, -3, -8, -3, -8, -11, -1, -1],
]
d_col_tree = (35,
              (21, (12, (9, L, (7, L, L)), (10, (7, L, L), (8, L, (5, L, L)))),
               (13, (9, (6, L, L), (7, L, (4, L, L))), (11, L, (7, L, (5, L, L))))),
              (24, (12, (8, L, L), (10, L, (6, L, L))),
               (19, (15, (11, L, (7, L, L)), (13, (9, L, L), (10, L, (6, L, L)))),
                (14, (9, L, (6, L, L)), (11, (8, L, L), (9, L, (7, L, L)))))))
d_row_tree = (35,
              (22, (14, L, (11, L, (8, L, L))), (15, (9, L, L), (12, L, (9, L, L)))),
              (28, L, (22, (15, (9, L, (6, L, (4, L, L))), (12, (8, L, L), (9, L, L))),
                       (16, (11, L, (7, L, L)), (13, (8, L, L), L)))))

# ---------- panel E
e_pathways = ["HALLMARK_MITOTIC_SPINDLE", "HALLMARK_PROTEIN_SECRETION", "HALLMARK_UV_RESPONSE_DN", "HALLMARK_SPERMATOGENESIS", "HALLMARK_MYC_TARGETS_V1"]
e_nes = [2.12, 1.85, 1.83, 1.53, -1.75]
e_direction = ["TN-IBC", "TN-IBC", "TN-IBC", "TN-IBC", "TN-non-IBC"]
e_ticks = [-1, 0, 1, 2]

# ---------- panel F
f_cells = ["B_cells_naive", "B_cells_memory", "Plasma_cells", "T_cells_CD8", "T_cells_CD4_naive", "T_cells_CD4_memory_resting", "T_cells_CD4_memory_activated", "T_cells_follicular_helper", "T_cells_regulatory_.Tregs.", "T_cells_gamma_delta", "NK_cells_resting", "NK_cells_activated", "Monocytes", "Macrophages_M0", "Macrophages_M1", "Macrophages_M2", "Dendritic_cells_resting", "Dendritic_cells_activated", "Mast_cells_resting", "Mast_cells_activated", "Eosinophils", "Neutrophils"]
f_sig = ["ns", "ns", "ns", "**", "ns", "ns", "ns", "ns", "ns", "**", "ns", "ns", "ns", "ns", "**", "ns", "*", "ns", "ns", "ns", "*", "ns"]
ibc_low = [.003, 0, 0, 0, 0, .014, 0, 0, 0, 0, 0, 0, 0, 0, 0, .04, 0, 0, 0, 0, 0, 0]
ibc_q1 = [.008, 0, 0, 0, 0, .104, 0, .038, 0, .002, 0, .006, 0, 0, .126, .126, 0, .011, .028, 0, 0, 0]
ibc_med = [.04, 0, .002, 0, 0, .138, .02, .061, 0, .024, 0, .015, 0, .014, .178, .183, 0, .054, .05, 0, .003, 0]
ibc_q3 = [.083, 0, .005, .001, 0, .213, .046, .077, 0, .05, 0, .051, .026, .024, .213, .25, .001, .114, .085, 0, .028, .002]
ibc_high = [.135, 0, .012, .003, 0, .362, .094, .119, 0, .067, 0, .107, .055, .034, .244, .328, .004, .134, .17, 0, .061, .004]
ibc_out = [[.213], [], [.02], [.035], [.033, .055, .098, .268], [], [.114, .125], [], [], [.146], [.011, .027, .059], [], [.075, .13], [.072, .12, .21], [], [.52], [.006, .023], [.325, .393], [], [.152], [.085, .121, .147], [.18]]
non_low = [0, 0, 0, 0, 0, .039, 0, .002, 0, 0, 0, 0, .014, .003, 0, .066, 0, 0, 0, 0, 0, 0]
non_q1 = [.013, 0, 0, 0, 0, .077, 0, .005, 0, 0, 0, .029, .016, .004, .049, .17, 0, .009, .018, 0, 0, 0]
non_med = [.055, 0, 0, .009, .005, .153, .001, .037, 0, 0, 0, .051, .027, .034, .084, .218, .002, .027, .05, 0, 0, .005]
non_q3 = [.087, 0, .012, .042, .059, .233, .017, .064, 0, .001, 0, .081, .05, .067, .139, .245, .039, .081, .102, 0, 0, .014]
non_high = [.186, 0, .025, .1, .142, .336, .022, .109, 0, .002, 0, .141, .097, .068, .205, .302, .056, .111, .124, 0, 0, .032]
non_out = [[], [.002], [.032, .064], [], [.24], [], [.043, .058, .12, .125], [.154], [.006], [.012, .017, .027], [.01, .017], [], [], [.17, .207, .292, .317], [], [.434], [.124], [.26], [.247], [.016], [.023], [.04, .056, .06, .064]]


# ---------- helpers
def ramp(stops, n=256):
    rgb = [tuple(int(s[i:i + 2], 16) for i in (1, 3, 5)) for s in stops]
    out = []
    for k in range(n):
        t = k / (n - 1) * (len(rgb) - 1)
        i = min(int(t), len(rgb) - 2)
        f = t - i
        c = [round(rgb[i][m] + (rgb[i + 1][m] - rgb[i][m]) * f) for m in range(3)]
        out.append("#%02X%02X%02X" % tuple(c))
    return out


def til_color(v, stops, lo=20, hi=80):
    pal = ramp(stops)
    return pal[round((v - lo) / (hi - lo) * 255)]


def base(ox, oy, w, h, fl, fr, ft, fb, x_range, y_range, axes=False, transparent=False, **extra):
    kw = {} if axes else {"x_axis_location": None, "y_axis_location": None}
    fill = None if transparent else "white"
    p = figure(width=w, height=h, x_range=x_range, y_range=y_range, output_backend="svg", toolbar_location=None,
               min_border_left=fl - ox, min_border_right=ox + w - fr, min_border_top=ft - oy, min_border_bottom=oy + h - fb,
               outline_line_color=None, background_fill_color=fill, border_fill_color=fill, frame_align=False, **kw, **extra)
    p.grid.visible = False
    p.extra_x_ranges = {"px": Range1d(fl, fr)}
    p.extra_y_ranges = {"px": Range1d(fb, ft)}
    return p


def overlay(ox, oy, w, h):
    # transparent sheet laid over a panel: it carries the texts and keys that sit outside the plot frame
    return base(ox, oy, w, h, ox, ox + w, oy, oy + h, Range1d(ox, ox + w), Range1d(oy + h, oy), transparent=True,
                margin=(-h, 0, 0, 0))


def txt(p, x, y, t, size=5, bold=False, italic=False, align="left", color="#222222", angle=0, baseline="middle"):
    style = "bold" if bold else ("italic" if italic else "normal")
    p.add_layout(Label(x=x, y=y, x_range_name="px", y_range_name="px", text=t, text_font=FONT, text_font_size=f"{size}px",
                       text_font_style=style, text_align=align, text_baseline=baseline, text_color=color,
                       angle=angle, angle_units="deg"))


def box(p, x0, x1, y0, y1, color, line=None, lw=0.6):
    p.add_layout(BoxAnnotation(left=x0, right=x1, top=y0, bottom=y1, x_range_name="px", y_range_name="px",
                               fill_color=color, fill_alpha=1, line_color=line, line_width=lw, line_alpha=1 if line else 0))


def count_leaves(t):
    return 1 if t is None else count_leaves(t[1]) + count_leaves(t[2])


def tree_paths(t):
    counter = [0]
    paths = []

    def walk(n):
        if n is None:
            counter[0] += 1
            return counter[0] - 1, 0
        a, ha = walk(n[1])
        b, hb = walk(n[2])
        paths.append(([a, a, b, b], [ha, n[0], n[0], hb]))
        return (a + b) / 2, n[0]
    walk(t)
    return paths


def col_dendro(p, tree, hl, cw, base_y, color="#5A5A5A"):
    paths = tree_paths(tree)
    p.multi_line(xs=[[hl + (q + .5) * cw for q in a] for a, b in paths], ys=[[base_y - h for h in b] for a, b in paths],
                 line_color=color, line_width=0.7, x_range_name="px", y_range_name="px")


def row_dendro(p, tree, ht, rh, base_x, color="#5A5A5A"):
    paths = tree_paths(tree)
    p.multi_line(ys=[[ht + (q + .5) * rh for q in a] for a, b in paths], xs=[[base_x - h for h in b] for a, b in paths],
                 line_color=color, line_width=0.7, x_range_name="px", y_range_name="px")


def heat(p, matrix, pal, lo, hi):
    xs, ys, vs = [], [], []
    for r, rowv in enumerate(matrix):
        for c, v in enumerate(rowv):
            xs.append(c)
            ys.append(r)
            vs.append(v)
    cmap = linear_cmap("v", pal, lo, hi)
    p.rect(x="x", y="y", width=1, height=1, source=ColumnDataSource(dict(x=xs, y=ys, v=vs)),
           fill_color=cmap, line_color=cmap, line_width=0.25)


def annot(p, colors, y0, y1):
    p.rect(x=list(range(len(colors))), y=[(y0 + y1) / 2] * len(colors), width=1, height=y1 - y0,
           fill_color=colors, line_color=None, y_range_name="px")


def heat_panel(ox, oy, w, h, hl, ht, cw, rh):
    xr = Range1d((ox - hl) / cw - .5, (ox + w - hl) / cw - .5)
    yr = Range1d((oy + h - ht) / rh - .5, (oy - ht) / rh - .5)
    return base(ox, oy, w, h, ox, ox + w, oy, oy + h, xr, yr)


def colorbar(p, x0, x1, y0, y1, pal, vtop, vbot, ticks, fmt, size=5, tx=None):
    n = 64
    dy = (y1 - y0) / n
    tops = [y0 + i * dy for i in range(n)]
    cols = [pal[round((1 - (i + .5) / n) * (len(pal) - 1))] for i in range(n)]
    p.quad(left=x0, right=x1, top=tops, bottom=[t + dy + .2 for t in tops], fill_color=cols, line_color=None,
           x_range_name="px", y_range_name="px")
    for v in ticks:
        y = y0 + (vtop - v) / (vtop - vbot) * (y1 - y0)
        txt(p, tx if tx else x1 + 2, y, fmt(v), size=size, color="#333333")


def legend_block(p, x, title, title_y, items, sw, sh, size=5, tsize=5):
    txt(p, x, title_y, title, size=tsize, bold=True)
    for lab, col, y in items:
        box(p, x, x + sw, y - sh / 2, y + sh / 2, col)
        if lab:
            txt(p, x + sw + 1.5, y, lab, size=size, color="#333333")


def letter(p, x, y, t):
    txt(p, x, y, t, size=17, bold=True, color="#000000")


# ---------- A
hlA, htA, cwA, rhA = 28, 72, 197 / 19, 184.5 / 19
pa = heat_panel(0, 0, 370, 285, hlA, htA, cwA, rhA)
heat(pa, a_matrix, list(Blues256), 0, 282)
annot(pa, [stage_colors[s] for s in a_stage], 46, 51.6)
annot(pa, [overall_colors[s] for s in a_overall], 52.3, 57.8)
annot(pa, [path_colors[s] for s in a_path], 58.4, 63.8)
annot(pa, [til_color(v, til_stops) for v in a_til], 64.6, 70.2)
col_dendro(pa, a_col_tree, hlA, cwA, 45)
row_dendro(pa, a_row_tree, htA, rhA, 27.5)
for lab, y in zip(["Stage_at_diagnosis", "Overall_Clinical_Staging", "Pathologic_Response", "TIL"], [48.6, 55, 61, 67.3]):
    txt(pa, 226, y, lab, size=4.7, bold=True)
pa.text(x=[hlA + 19 * cwA + 2.5] * 19, y=list(range(19)), text=a_samples, text_font=value(FONT), text_font_size="4.8px",
        text_baseline="middle", text_color="#333333", x_range_name="px")
pa.text(x=list(range(19)), y=[258.5] * 19, text=a_samples, text_font=value(FONT), text_font_size="4.8px",
        text_baseline="middle", angle=-math.pi / 2, text_color="#333333", y_range_name="px")
colorbar(pa, 288, 293, 45, 125, list(Blues256), 282, 0, [250, 200, 150, 100, 50, 0], lambda v: str(v), size=5)
legend_block(pa, 306, "Stage_at_diagnosis", 47,
             [(k, stage_colors[k], y) for k, y in zip(stage_colors, [54.3, 62, 69.7, 77.3, 85, 92.7])], 8, 7.7)
legend_block(pa, 306, "Overall_Clinical_Staging", 104,
             [(k, overall_colors[k], y) for k, y in zip(overall_colors, [111, 119, 127])], 8, 7.7)
legend_block(pa, 306, "Pathologic_Response", 138,
             [("pCR", path_colors["pCR"], 146), ("non\u2212pCR", path_colors["non"], 153.5), ("N/A", path_colors["NA"], 161)], 8, 7.6)
legend_block(pa, 306, "TIL", 172, [("80", til_color(80, til_stops), 180), ("", til_color(60, til_stops), 187.7),
                                   ("", til_color(40, til_stops), 195.3), ("20", til_color(20, til_stops), 203)], 8, 7.7)
letter(pa, 3, 21, "A")

# ---------- B
hlB, htB, cwB, rhB = 414, 54.3, 188.7 / 19, 214 / 50
pb = heat_panel(370, 0, 415, 285, hlB, htB, cwB, rhB)
heat(pb, [[v / 100 for v in r] for r in b_matrix_pct], ramp(rdylbu_stops), -0.615, 0.59)
annot(pb, [stage_colors[s] for s in b_stage], 28.3, 34)
annot(pb, [overall_colors[s] for s in b_overall], 35, 40.7)
annot(pb, [path_colors[s] for s in b_path], 41.3, 47)
annot(pb, [til_color(v, til_stops) for v in b_til], 47.7, 53.3)
col_dendro(pb, b_col_tree, hlB, cwB, 27.5)
row_dendro(pb, b_row_tree, htB, rhB, 413.5)
for lab, y in zip(["Stage_at_diagnosis", "Overall_Clinical_Staging", "Pathologic_Response", "TIL"], [31, 38, 44.3, 50.3]):
    txt(pb, 605, y, lab, size=4.8, bold=True)
pb.text(x=[hlB + 19 * cwB + 2] * 50, y=list(range(50)), text=b_pathways, text_font=value(FONT), text_font_size="3.9px",
        text_baseline="middle", text_color="#333333", x_range_name="px")
pb.text(x=list(range(19)), y=[270] * 19, text=b_samples, text_font=value(FONT), text_font_size="4.2px",
        text_baseline="middle", angle=-math.pi / 2, text_color="#333333", y_range_name="px")
colorbar(pb, 694, 700, 28, 107, ramp(rdylbu_stops), 0.59, -0.615, [0.4, 0.2, 0, -0.2, -0.4, -0.6],
         lambda v: (f"{v:g}").replace("-", "\u2212"), size=5)
legend_block(pb, 713.7, "Stage_at_diagnosis", 30,
             [(k, stage_colors[k], y) for k, y in zip(stage_colors, [37.7, 45.3, 52.7, 60.3, 67.7, 75.3])], 8, 7.5)
legend_block(pb, 713.7, "Overall_Clinical_Staging", 87,
             [(k, overall_colors[k], y) for k, y in zip(overall_colors, [93.7, 101.7, 109.3])], 8, 7.7)
legend_block(pb, 713.7, "Pathologic_Response", 121.3,
             [("pCR", path_colors["pCR"], 128.7), ("non-pCR", path_colors["non"], 136.7), ("N/A", path_colors["NA"], 144)], 8, 7.6)
legend_block(pb, 713.7, "TIL", 155, [("80", til_color(80, til_stops), 162.7), ("", til_color(60, til_stops), 170.5),
                                     ("", til_color(40, til_stops), 178.3), ("20", til_color(20, til_stops), 186)], 8, 7.8)
letter(pb, 373, 21, "B")

# ---------- C
sxC = 6.21
syC = 0.8467
flC, frC, ftC, fbC = 44, 319, 359, 598
xrC = Range1d((flC - 142.3) / sxC, (frC - 142.3) / sxC)
yrC = Range1d((587.3 - fbC) / syC, (587.3 - ftC) / syC)
pc = base(0, 285, 350, 360, flC, frC, ftC, fbC, xrC, yrC, axes=True)
oc = overlay(0, 285, 350, 360)
band_x, band_y = [], []
for yv, xs in red_bands:
    band_x += xs
    band_y += [yv] * len(xs)
pc.scatter([q[0] for q in grey_scatter], [q[1] for q in grey_scatter], size=3, color="#808080", alpha=.6, line_color=None)
pc.scatter([q[0] for q in green_scatter], [q[1] for q in green_scatter], size=3, color="#3CB371", alpha=.6, line_color=None)
pc.scatter([q[0] for q in blue_scatter], [q[1] for q in blue_scatter], size=3.6, color="#3D62D9", alpha=.85, line_color=None)
pc.scatter(band_x, band_y, size=4.6, color="#FF0000", alpha=.85, line_color=None)
pc.scatter([q[0] for q in red_scatter], [q[1] for q in red_scatter], size=3.4, color="#FF1010", alpha=.65, line_color=None)
pc.add_layout(Span(location=-1.07, dimension="height", line_color="#8A8A8A", line_dash="4 3", line_width=0.8))
pc.add_layout(Span(location=1, dimension="height", line_color="#333333", line_dash="4 3", line_width=0.7))
pc.add_layout(Span(location=1.3, dimension="width", line_color="#333333", line_dash="4 3", line_width=0.7))
pc.text(x=[g[1] for g in gene_labels], y=[g[2] for g in gene_labels], text=[g[0] for g in gene_labels],
        text_font=value(FONT), text_font_size="5.8px", text_align="center", text_baseline="middle", text_color="#000000")
for ax in (pc.xaxis[0], pc.yaxis[0]):
    ax.axis_line_color = "#2B2B2B"
    ax.axis_line_width = 1
    ax.major_tick_line_color = "#333333"
    ax.major_tick_line_width = 0.6
    ax.major_tick_in = 0
    ax.major_tick_out = 3
    ax.minor_tick_line_color = None
    ax.major_label_text_font = FONT
    ax.major_label_text_font_size = "7.6px"
    ax.major_label_text_color = "#555555"
pc.xaxis.ticker = FixedTicker(ticks=[-10, 0, 10, 20])
pc.yaxis.ticker = FixedTicker(ticks=[0, 100, 200])
pc.xaxis[0].major_label_overrides = {-10: "-10", 0: "0", 10: "10", 20: "20"}
txt(oc, 26.7, 315, "TN-IBC vs TN-non-IBC", size=10.3, bold=True, color="#111111")
for dx, tx_, lab, col in zip([81, 131, 185, 226], [93.7, 143.7, 197, 238], ["Not sig.", "Log2 FC", "adj-p", "adj-p & Log2 FC"],
                             ["#8E8E8E", "#66B96E", "#7C96E8", "#F26060"]):
    box(oc, dx - 1.4, dx + 1.4, 330.6, 333.4, col)
    txt(oc, tx_, 332, lab, size=6.9, color="#333333")
txt(oc, 191, 620.7, "Log\u2082 FC (TN-IBC/TN-non-IBC)", size=7.9, align="center", color="#222222")
txt(oc, 319, 638.7, "Cutoffs: lLog2FCl>=1; adj-p< 0.05", size=7.1, align="right", color="#222222")
txt(oc, 12.7, 493, "\u2212Log\u2081\u2080", size=7.9, align="center", angle=90, color="#222222")
txt(oc, 12.7, 463, "adj \u2212 p", size=7.9, italic=True, align="center", angle=90, color="#222222")
letter(oc, 3, 317, "C")

# ---------- D
hlD, htD, cwD, rhD = 398, 384, 203 / 38, 223.7 / 24
pd_ = heat_panel(350, 285, 435, 360, hlD, htD, cwD, rhD)
heat(pd_, [[v / 10 for v in r] for r in d_matrix_tenths], ramp(rdbu_stops), -2.85, 2.9)
annot(pd_, [d_overall_colors[s] for s in d_overall], 352.7, 359.3)
annot(pd_, [til_color(v, d_til_stops) for v in d_til], 360.3, 367.3)
annot(pd_, [path_colors[s] for s in d_path], 368.3, 375)
annot(pd_, [tumor_colors[s] for s in d_tumor], 376, 382.7)
col_dendro(pd_, d_col_tree, hlD, cwD, 351.5)
row_dendro(pd_, d_row_tree, htD, rhD, 397.5)
for lab, y in zip(["Overall_Clinical_Staging", "TIL_level", "Pathologic_Response", "Tumor_type"], [355.7, 363.6, 371.7, 379.7]):
    txt(pd_, 603, y, lab, size=5.6, bold=True)
pd_.text(x=[604.5] * 24, y=list(range(24)), text=d_genes, text_font=value(FONT), text_font_size="5.8px", text_font_style="italic",
         text_baseline="middle", text_color="#222222", x_range_name="px")
colorbar(pd_, 679, 686, 352, 449, ramp(rdbu_stops), 2.9, -2.85, [2, 1, 0, -1, -2],
         lambda v: str(v).replace("-", "\u2212"), size=5.6, tx=688)
legend_block(pd_, 697.3, "Overall_Clinical_Staging", 354.3,
             [(k, d_overall_colors[k], y) for k, y in zip(["IIIB", "IIIC", "IV", "IIIA"], [363.7, 373.3, 382.5, 392])], 9.3, 9.4, size=5.7, tsize=5.7)
legend_block(pd_, 697.3, "TIL_level", 404.3, [("80", til_color(80, d_til_stops), 414.3), ("", til_color(60, d_til_stops), 423.7),
                                             ("", til_color(40, d_til_stops), 433), ("20", til_color(20, d_til_stops), 442.3)], 9.3, 9.4, size=5.7, tsize=5.7)
legend_block(pd_, 697.3, "Pathologic_Response", 456.7,
             [("pCR", path_colors["pCR"], 465.7), ("non\u2212pCR", path_colors["non"], 475.3), ("N/A", path_colors["NA"], 484.7)], 9.3, 9.4, size=5.7, tsize=5.7)
legend_block(pd_, 697.3, "Tumor_type", 498.7,
             [("TN-IBC", tumor_colors["TN-IBC"], 508), ("TN-non-IBC", tumor_colors["TN-non-IBC"], 517.3)], 9.3, 9.4, size=5.7, tsize=5.7)
letter(pd_, 373, 317, "D")

# ---------- E
flE, frE, ftE, fbE = 146, 252, 710, 872
xrE = Range1d((flE - 194.7) / 25, (frE - 194.7) / 25)
yrE = Range1d(0.4, 5.6)
pe = base(0, 645, 345, 352, flE, frE, ftE, fbE, xrE, yrE, axes=True)
oe = overlay(0, 645, 345, 352)
e_pos = [5, 4, 3, 2, 1]
pe.hbar(y=e_pos, left=0, right=e_nes, height=0.9, fill_color=[tumor_colors[d] for d in e_direction], line_color=None)
pe.xaxis.ticker = FixedTicker(ticks=e_ticks, minor_ticks=[-1.5, -.5, .5, 1.5])
pe.yaxis.ticker = FixedTicker(ticks=e_pos)
pe.yaxis[0].major_label_overrides = dict(zip(e_pos, e_pathways))
pe.grid.visible = True
pe.xgrid.grid_line_color = "#EDEDED"
pe.xgrid.grid_line_width = 0.6
pe.xgrid.minor_grid_line_color = "#F4F4F4"
pe.xgrid.minor_grid_line_width = 0.4
pe.ygrid.grid_line_color = "#EDEDED"
pe.ygrid.grid_line_width = 0.6
for ax in (pe.xaxis[0], pe.yaxis[0]):
    ax.axis_line_color = None
    ax.major_tick_line_color = None
    ax.minor_tick_line_color = None
    ax.major_label_text_font = FONT
    ax.major_label_standoff = 3
pe.xaxis[0].major_label_text_color = None
pe.yaxis[0].major_label_text_font_size = "5.6px"
pe.yaxis[0].major_label_text_color = "#333333"
for v in e_ticks:
    txt(oe, 194.7 + 25 * v, 877, str(v).replace("-", "\u2212"), size=5.4, align="center", color="#666666")
txt(oe, 201, 700.7, "Enriched Hallmark pathways", size=8.2, align="center")
txt(oe, 199, 885, "Normalized Enrichment Score", size=7.1, align="center")
txt(oe, 36.7, 790, "Pathway", size=6.3, align="center", angle=90)
txt(oe, 263.7, 777, "Enrichment Direction", size=7)
box(oe, 263.7, 275, 784.5, 795.5, tumor_colors["TN-non-IBC"])
box(oe, 263.7, 275, 796.2, 807.2, tumor_colors["TN-IBC"])
txt(oe, 278.7, 790, "TN-non-IBC", size=5.6)
txt(oe, 278.7, 801.7, "TN-IBC", size=5.6)
letter(oe, 3, 656, "E")

# ---------- F
flF, frF, ftF, fbF = 373, 731, 680, 915
xrF = Range1d(0.4, 22.6)
yrF = Range1d((904 - fbF) / 410.7, (904 - ftF) / 410.7)
pf = base(345, 645, 440, 352, flF, frF, ftF, fbF, xrF, yrF, axes=True)
of = overlay(345, 645, 440, 352)
idx = list(range(1, 23))


def boxes(off, low, q1, med, q3, high, outs, color):
    xs = [i + off for i in idx]
    pf.segment(xs, low, xs, q1, line_color="#444444", line_width=0.6)
    pf.segment(xs, q3, xs, high, line_color="#444444", line_width=0.6)
    pf.quad(left=[x - .175 for x in xs], right=[x + .175 for x in xs], bottom=q1, top=q3, fill_color=color,
            line_color="#555555", line_width=0.6)
    pf.segment([x - .175 for x in xs], med, [x + .175 for x in xs], med, line_color="#2B2B2B", line_width=1)
    ox, oy = [], []
    for x, os_ in zip(xs, outs):
        ox += [x] * len(os_)
        oy += os_
    pf.scatter(ox, oy, size=2.6, color="#333333", line_color=None)


boxes(-0.187, ibc_low, ibc_q1, ibc_med, ibc_q3, ibc_high, ibc_out, tumor_colors["TN-IBC"])
boxes(0.187, non_low, non_q1, non_med, non_q3, non_high, non_out, tumor_colors["TN-non-IBC"])
pf.text(x=idx, y=[0.525] * 22, text=f_sig, text_font=value(FONT), text_font_size="6.2px", text_align="center",
        text_baseline="middle", text_color="#333333")
pf.xaxis.ticker = FixedTicker(ticks=idx)
pf.xaxis[0].major_label_overrides = {i: c for i, c in zip(idx, f_cells)}
pf.xaxis[0].major_label_orientation = math.pi / 4
pf.yaxis.ticker = FixedTicker(ticks=[0, .1, .2, .3, .4, .5])
pf.yaxis[0].major_label_overrides = {0: "0.0", .1: "0.1", .2: "0.2", .3: "0.3", .4: "0.4", .5: "0.5"}
for ax in (pf.xaxis[0], pf.yaxis[0]):
    ax.axis_line_color = "#777777"
    ax.axis_line_width = 1.4
    ax.major_tick_line_color = "#555555"
    ax.major_tick_line_width = 0.6
    ax.major_tick_in = 0
    ax.major_tick_out = 3
    ax.minor_tick_line_color = None
    ax.major_label_text_font = FONT
    ax.major_label_text_color = "#666666"
    ax.major_label_standoff = 3
pf.xaxis[0].major_label_standoff = 8
pf.xaxis[0].major_label_text_font_size = "6.9px"
pf.yaxis[0].major_label_text_font_size = "5.6px"
txt(of, 356, 795, "Fraction", size=7, align="center", angle=90)
txt(of, 554, 992, "Immune cells", size=7, align="center")
txt(of, 731, 784, "Tumor_type", size=7)
for yk, lab in zip([796, 807.3], ["TN-IBC", "TN-non-IBC"]):
    box(of, 732.5, 741, yk - 3, yk + 3, tumor_colors[lab], line="#555555")
    box(of, 732.5, 741, yk - 0.3, yk + 0.3, "#2B2B2B")
    txt(of, 746, yk, lab, size=6.4)
letter(of, 374, 656, "F")

for m, nr, nc in [(a_matrix, 19, 19), (b_matrix_pct, 50, 19), (d_matrix_tenths, 24, 38)]:
    assert len(m) == nr and all(len(r) == nc for r in m), (len(m), [len(r) for r in m])
for t, n in [(a_col_tree, 19), (a_row_tree, 19), (b_col_tree, 19), (b_row_tree, 50), (d_col_tree, 38), (d_row_tree, 24)]:
    assert count_leaves(t) == n, (count_leaves(t), n)

layout = column(row(pa, pb, spacing=0),
                row(column(pc, oc, spacing=0), pd_, spacing=0),
                row(column(pe, oe, spacing=0), column(pf, of, spacing=0), spacing=0),
                spacing=0)
open("out.html", "w").write(file_html(layout, INLINE))
